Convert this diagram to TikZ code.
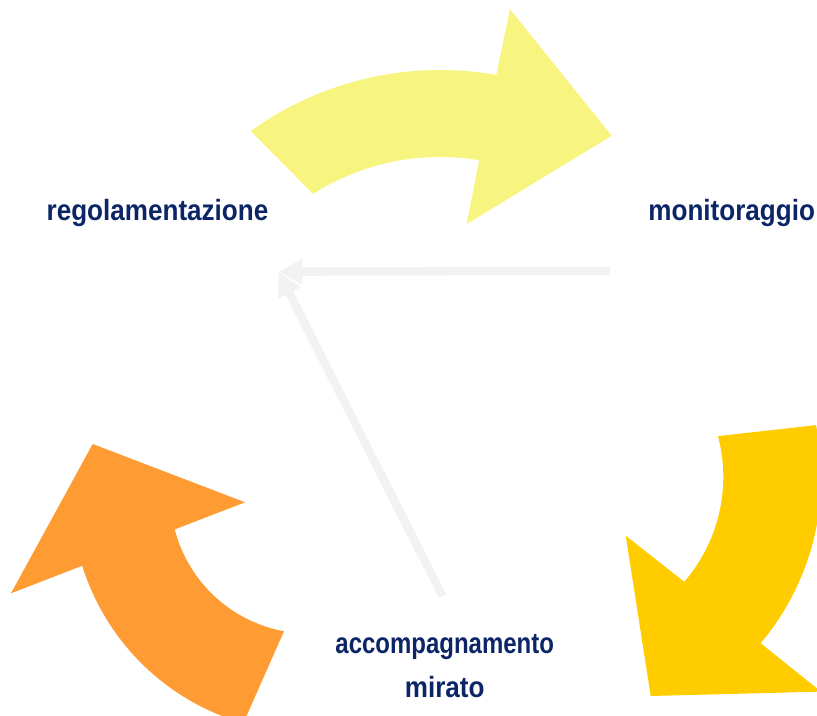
\documentclass[tikz,border=0pt]{standalone}
\usepackage{fontspec}
\setmainfont{Liberation Sans}[FakeStretch=0.89]
\usetikzlibrary{arrows.meta,calc}
\definecolor{pale}{HTML}{F8F480}
\definecolor{gold}{HTML}{FFCC00}
\definecolor{tangerine}{HTML}{FF9B33}
\definecolor{navy}{HTML}{0B2566}
\definecolor{mist}{HTML}{F2F2F2}
\begin{document}
\begin{tikzpicture}[x=0.03cm, y=0.03cm,
  lbl/.style={inner sep=0pt, text=navy, font=\fontsize{25}{37.4}\selectfont\bfseries},
  feedback/.style={draw=mist, line width=0.249cm, -{Triangle[length=0.72cm,width=0.72cm]}}]
\useasboundingbox (0,0) rectangle (817,715);

% centres of the three curved block arrows
\coordinate (cy) at (440,321);
\coordinate (cg) at (563.3,238);
\coordinate (co) at (309.3,220.4);

% top arrow: regolamentazione -> monitoraggio
\fill[pale] ($(cy)+(125.75:324)$) arc[start angle=125.75, end angle=80, radius=324]
  -- (510,705.7) -- (611.7,579.3) -- (466.7,491)
  -- ($(cy)+(80.5:237)$) arc[start angle=80.5, end angle=122.4, radius=237] -- cycle;

% right arrow: monitoraggio -> accompagnamento mirato
\fill[gold] ($(cg)+(11.6:258)$) arc[start angle=11.6, end angle=-40.1, radius=258]
  -- (821,23.4) -- (650.7,19) -- (625.7,179.3)
  -- ($(cg)+(-40.9:160)$) arc[start angle=-40.9, end angle=14.8, radius=160] -- cycle;

% left arrow: accompagnamento mirato -> regolamentazione
\fill[tangerine] ($(co)+(253.9:238)$) arc[start angle=253.9, end angle=197.4, radius=238]
  -- (11,121.7) -- (92.7,271) -- (245,212.7)
  -- ($(co)+(194.5:139)$) arc[start angle=194.5, end angle=259.5, radius=139] -- cycle;

% labels (a multi-line node sits on the baseline of its last line)
\node[lbl, anchor=base] (regol) at (157.5,494) {regolamentazione};
\node[lbl, anchor=base] (monit) at (731.7,494) {monitoraggio};
\node[lbl, anchor=base, align=center] (accomp) at (444.7,18)
  {\scalebox{0.92}[1]{accompagnamento}\\mirato};

% light feedback arrows
\coordinate (hub) at (278.5,443.3);
\coordinate (fromMon) at (610,444);
\coordinate (fromAcc) at (442.5,119);
\draw[feedback] (fromMon) -- (hub);
\draw[feedback] (fromAcc) -- (hub);
\end{tikzpicture}
\end{document}
